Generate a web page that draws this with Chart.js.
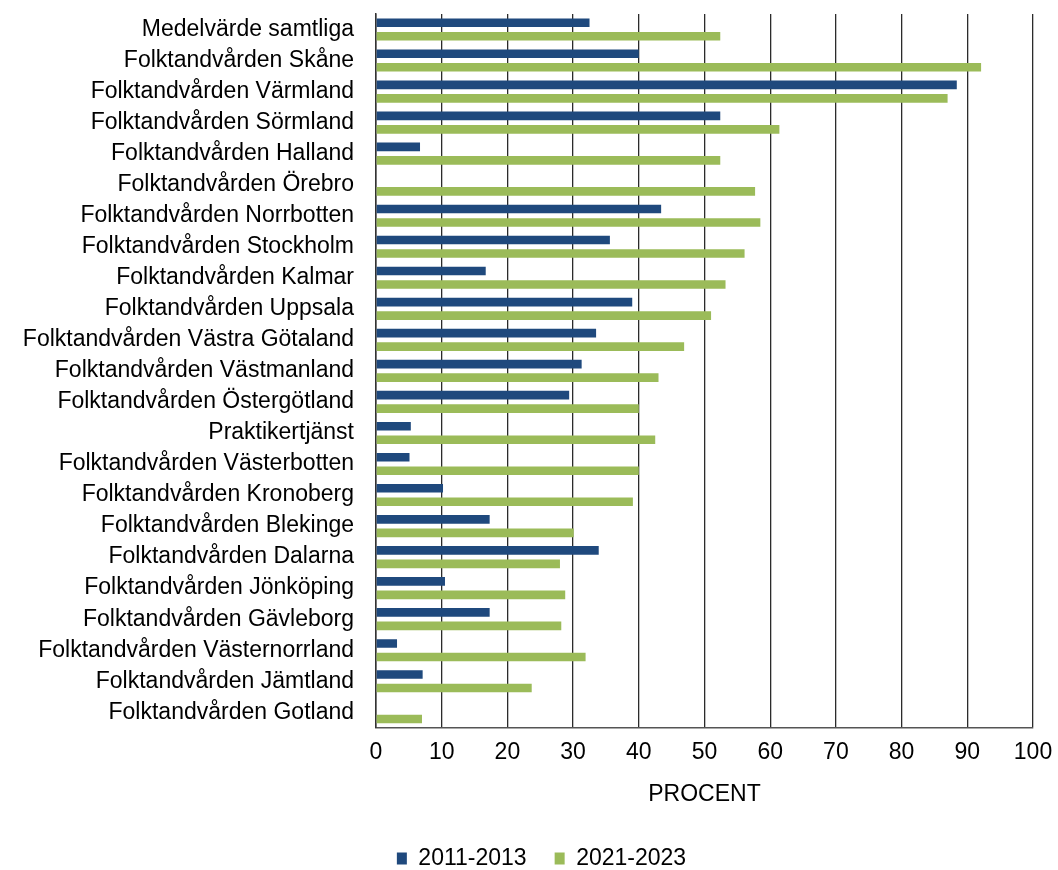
<!DOCTYPE html>
<html>
<head>
<meta charset="utf-8">
<script src="https://cdn.jsdelivr.net/npm/chart.js@4/dist/chart.umd.min.js"></script>
<style>
  body { margin: 0; background: #fff; }
</style>
</head>
<body>
<canvas id="grafico" width="1058" height="870"></canvas>
<script>
const kategorier = [
  "Medelvärde samtliga",
  "Folktandvården Skåne",
  "Folktandvården Värmland",
  "Folktandvården Sörmland",
  "Folktandvården Halland",
  "Folktandvården Örebro",
  "Folktandvården Norrbotten",
  "Folktandvården Stockholm",
  "Folktandvården Kalmar",
  "Folktandvården Uppsala",
  "Folktandvården Västra Götaland",
  "Folktandvården Västmanland",
  "Folktandvården Östergötland",
  "Praktikertjänst",
  "Folktandvården Västerbotten",
  "Folktandvården Kronoberg",
  "Folktandvården Blekinge",
  "Folktandvården Dalarna",
  "Folktandvården Jönköping",
  "Folktandvården Gävleborg",
  "Folktandvården Västernorrland",
  "Folktandvården Jämtland",
  "Folktandvården Gotland"
];

const period2011 = [32.5, 40.0, 88.4, 52.4, 6.7, 0, 43.4, 35.6, 16.7, 39.0, 33.5, 31.3,
  29.4, 5.3, 5.1, 10.2, 17.3, 33.9, 10.5, 17.3, 3.2, 7.1, 0];
const period2021 = [52.4, 92.1, 87.0, 61.4, 52.4, 57.7, 58.5, 56.1, 53.2, 51.0, 46.9, 43.0,
  40.0, 42.5, 40.0, 39.1, 30.1, 28.0, 28.8, 28.2, 31.9, 23.7, 7.0];

const xTicks = [0, 10, 20, 30, 40, 50, 60, 70, 80, 90, 100];

const typsnitt = "Liberation Sans, Arial, sans-serif";

// flyttar legenden lite åt höger som i originalet
const flyttaLegend = {
  id: "flyttaLegend",
  afterLayout(chart) {
    chart.legend.left += 25;
    chart.legend.right += 25;
  }
};

const ctx = document.getElementById("grafico").getContext("2d");
new Chart(ctx, {
  type: "bar",
  data: {
    labels: kategorier,
    datasets: [
      {
        label: "2011-2013",
        data: period2011,
        backgroundColor: "#1F497D",
        borderWidth: 0
      },
      {
        label: "2021-2023",
        data: period2021,
        backgroundColor: "#9BBB59",
        borderWidth: 0
      }
    ]
  },
  options: {
    indexAxis: "y",
    responsive: false,
    animation: false,
    categoryPercentage: 0.87,
    barPercentage: 0.64,
    layout: { padding: { top: 14, right: 25, left: 0, bottom: -10 } },
    scales: {
      x: {
        min: 0,
        max: 100,
        afterBuildTicks(scale) {
          scale.ticks = xTicks.map((v) => ({ value: v }));
        },
        afterFit(scale) {
          scale.paddingLeft = 0;
          scale.paddingRight = 0;
        },
        grid: { color: "#2b2b2b", lineWidth: 1.3, drawTicks: false },
        border: { color: "#555", width: 1.5 },
        ticks: {
          padding: 11,
          color: "#000",
          font: { family: typsnitt, size: 23 },
          maxRotation: 0
        },
        title: {
          display: true,
          text: "PROCENT",
          color: "#000",
          font: { family: typsnitt, size: 23 },
          padding: { top: 3, bottom: 11 }
        }
      },
      y: {
        afterFit(scale) {
          scale.width = 376;
          scale.paddingTop = 0;
          scale.paddingBottom = 0;
        },
        grid: { display: false, drawTicks: false },
        border: { color: "#333", width: 1.5 },
        ticks: {
          padding: 22,
          color: "#000",
          autoSkip: false,
          font: { family: typsnitt, size: 23 }
        }
      }
    },
    plugins: {
      legend: {
        position: "bottom",
        labels: {
          color: "#000",
          boxWidth: 10,
          boxHeight: 12,
          padding: 28,
          font: { family: typsnitt, size: 23 }
        }
      },
      tooltip: { enabled: false }
    }
  },
  plugins: [flyttaLegend]
});
</script>
</body>
</html>
